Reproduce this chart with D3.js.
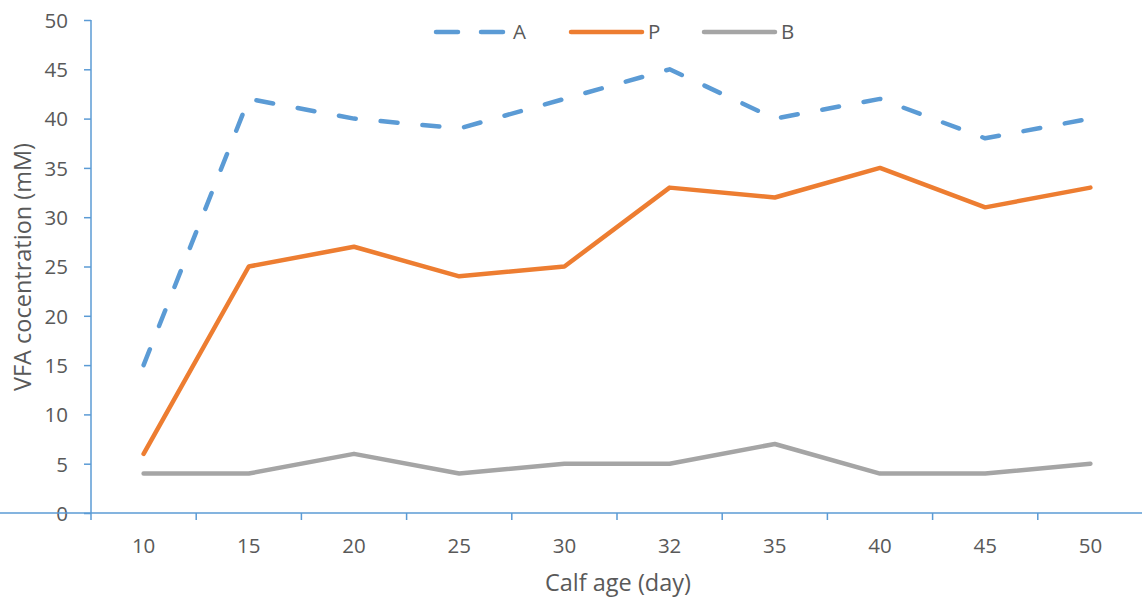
<!DOCTYPE html>
<html><head><meta charset="utf-8">
<script src="https://cdn.jsdelivr.net/npm/d3@7"></script>
<style>body{margin:0;background:#fff}svg{display:block}text{font-family:"Open Sans",sans-serif;fill:#595959}</style>
</head><body><svg id="c" width="1142" height="599"></svg>
<script>
const categories = ["10","15","20","25","30","32","35","40","45","50"];
const seriesA = [15,42,40,39,42,45,40,42,38,40];
const seriesP = [6,25,27,24,25,33,32,35,31,33];
const seriesB = [4,4,6,4,5,5,7,4,4,5];
const yTicks = [0,5,10,15,20,25,30,35,40,45,50];
const series = [
  {name:"A", values:seriesA, color:"#5B9BD5", dash:"17,25"},
  {name:"P", values:seriesP, color:"#ED7D31", dash:null},
  {name:"B", values:seriesB, color:"#A5A5A5", dash:null}
];
const svg = d3.select("#c");
const x = d3.scaleBand().domain(categories).range([91,1143]);
const y = d3.scaleLinear().domain([0,50]).range([513,20]);
const axisColor = "#5B9BD5";
// y axis
const ya = svg.append("g").attr("transform","translate(91,0)")
  .call(d3.axisLeft(y).tickValues(yTicks).tickSize(7).tickPadding(16));
ya.selectAll("text").style("font-size","20.5px").attr("dy","0.36em");
// x axis
const xa = svg.append("g").attr("transform","translate(0,513)")
  .call(d3.axisBottom(x).tickSize(0).tickPadding(25));
xa.selectAll("text").style("font-size","20.5px");
// x tick marks between categories
const bounds = categories.map(c=>x(c)).concat([x(categories[categories.length-1])+x.bandwidth()]);
xa.selectAll("line.b").data(bounds).enter().append("line").attr("class","b")
  .attr("x1",d=>d).attr("x2",d=>d).attr("y1",0).attr("y2",7).attr("stroke",axisColor).attr("stroke-width",1.5);
svg.selectAll(".domain").attr("stroke",axisColor).attr("stroke-width",1.5);
svg.selectAll(".tick line").attr("stroke",axisColor).attr("stroke-width",1.5);
ya.select(".domain").attr("d","M0,513V20");
xa.select(".domain").attr("d","M0,0H1142");
// lines
const line = d3.line().x((d,i)=>x(categories[i])+x.bandwidth()/2).y(d=>y(d));
series.forEach(s=>{
  svg.append("path").datum(s.values).attr("d",line).attr("fill","none")
    .attr("stroke",s.color).attr("stroke-width",4.5).attr("stroke-linecap","round").attr("stroke-linejoin","round")
    .attr("stroke-dasharray",s.dash);
});
// legend
const legX = [436,571,704];
series.forEach((s,i)=>{
  const g = svg.append("g");
  if(s.dash){
    g.append("line").attr("x1",legX[i]).attr("x2",legX[i]+22).attr("y1",32).attr("y2",32)
      .attr("stroke",s.color).attr("stroke-width",4.5).attr("stroke-linecap","round");
    g.append("line").attr("x1",legX[i]+45).attr("x2",legX[i]+67).attr("y1",32).attr("y2",32)
      .attr("stroke",s.color).attr("stroke-width",4.5).attr("stroke-linecap","round");
  } else {
    g.append("line").attr("x1",legX[i]).attr("x2",legX[i]+71).attr("y1",32).attr("y2",32)
      .attr("stroke",s.color).attr("stroke-width",4.5).attr("stroke-linecap","round");
  }
  g.append("text").attr("x",legX[i]+77).attr("y",32).attr("dy","0.36em").style("font-size","20.5px").text(s.name);
});
// axis titles
svg.append("text").attr("x",618).attr("y",591).attr("text-anchor","middle").style("font-size","23.5px").text("Calf age (day)");
svg.append("text").attr("transform","translate(31,267) rotate(-90)").attr("text-anchor","middle").style("font-size","23.5px").text("VFA cocentration (mM)");
</script></body></html>
